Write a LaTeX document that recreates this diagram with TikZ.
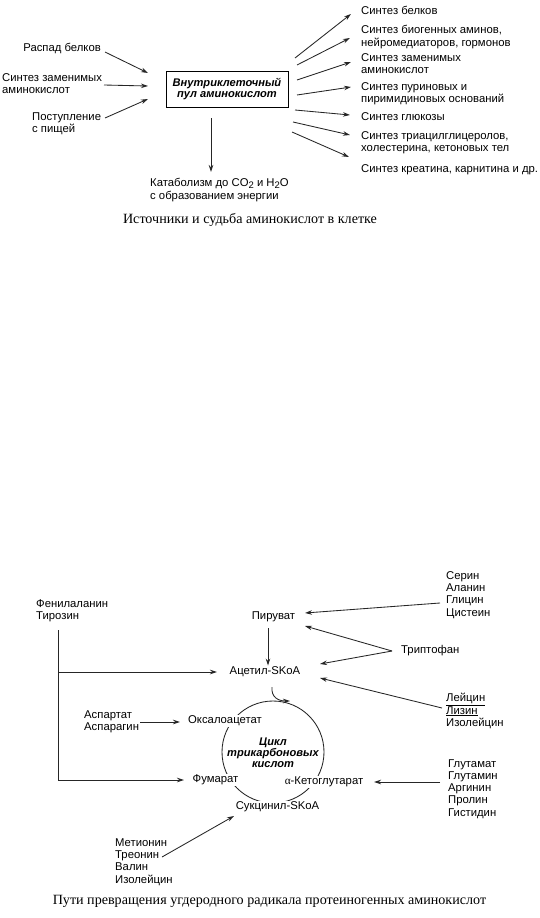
\documentclass[tikz,border=0pt]{standalone}
\usepackage{fontspec}
\setmainfont{Liberation Sans}
\newfontfamily\capfont{Liberation Serif}
\usetikzlibrary{arrows.meta,calc}
\newcommand{\chemsub}[1]{\raisebox{-0.3ex}{\fontsize{9.5}{9.5}\selectfont #1}}
\begin{document}
\begin{tikzpicture}[x=1pt,y=-1pt,
  lbl/.style={inner sep=1pt, font=\fontsize{11.3}{12.2}\selectfont, align=left},
  arr/.style={-{Stealth[length=7pt,width=4.5pt]}, line width=0.85pt, draw=black!85},
  ln/.style={line width=0.85pt, draw=black!85},
  captext/.style={inner sep=0pt, font=\capfont\fontsize{14.1}{16}\selectfont},
  cyc/.style={inner sep=1.2pt, fill=white, font=\fontsize{11.3}{12.2}\selectfont}]
\useasboundingbox (0,0) rectangle (539,918);
\fill[white] (0,0) rectangle (539,918);

% ---------- upper diagram ----------
\node[draw, line width=0.85pt, minimum width=122pt, minimum height=36pt, align=center,
      font=\fontsize{11.1}{11.5}\selectfont\bfseries\itshape] (pool) at (227,89) {Внутриклеточный\\пул аминокислот};

\node[lbl, anchor=east] (rasp) at (102,48) {Распад белков};
\node[lbl, anchor=west] (zam) at (1,83.5) {Синтез заменимых\\аминокислот};
\node[lbl, anchor=west] (post) at (31,124) {Поступление\\с пищей};

\coordinate (i1) at (148,73);
\coordinate (i2) at (148,86);
\coordinate (i3) at (148,99);
\draw[arr] (105,52) coordinate (o1) -- (i1);
\draw[arr] (104,85) coordinate (o2) -- (i2);
\draw[arr] (105,118) coordinate (o3) -- (i3);

\node[lbl, anchor=west] (r1) at (360,10) {Синтез белков};
\node[lbl, anchor=west] (r2) at (360,37) {Синтез биогенных аминов,\\нейромедиаторов, гормонов};
\node[lbl, anchor=west] (r3) at (360,64) {Синтез заменимых\\аминокислот};
\node[lbl, anchor=west] (r4) at (360,93.5) {Синтез пуриновых и\\пиримидиновых оснований};
\node[lbl, anchor=west] (r5) at (360,117) {Синтез глюкозы};
\node[lbl, anchor=west] (r6) at (360,143) {Синтез триацилглицеролов,\\холестерина, кетоновых тел};
\node[lbl, anchor=west] (r7) at (360,170) {Синтез креатина, карнитина и др.};

\coordinate (s1) at (295,58);  \coordinate (e1) at (351,14);
\coordinate (s2) at (297,65);  \coordinate (e2) at (350,38);
\coordinate (s3) at (297,80);  \coordinate (e3) at (351,62);
\coordinate (s4) at (297,95);  \coordinate (e4) at (351,87);
\coordinate (s5) at (295,110); \coordinate (e5) at (350,115);
\coordinate (s6) at (293,122); \coordinate (e6) at (350,135);
\coordinate (s7) at (292,132); \coordinate (e7) at (349,157);
\foreach \i in {1,...,7} {\draw[arr] (s\i) -- (e\i);}

\node[lbl, anchor=west, font=\fontsize{11.3}{13}\selectfont] (cat) at (149,190.5) {Катаболизм до CO\chemsub{2} и H\chemsub{2}O\\с образованием энергии};
\coordinate (d0) at (211,118);
\draw[arr] (d0) -- (d0 |- 0,172);

\node[captext] (cap1) at (250,220) {Источники и судьба аминокислот в клетке};

% ---------- lower diagram ----------
\draw[ln] (273,752) circle[radius=51];

\node[cyc] (pyr) at (273.5,617) {Пируват};
\node[cyc] (acet) at (265,672) {Ацетил-SKoA};
\node[cyc] (oxa) at (225,721) {Оксалоацетат};
\node[cyc] (fum) at (215.5,780) {Фумарат};
\node[cyc] (ket) at (324,782) {{\capfont α}-Кетоглутарат};
\node[cyc] (suc) at (277.5,807) {Сукцинил-SKoA};
\node[align=center, inner sep=0pt, font=\fontsize{11.1}{11}\selectfont\bfseries\itshape] (tca) at (273,753) {Цикл\\трикарбоновых\\кислот};

\node[lbl, anchor=west] (phe) at (35,611) {Фенилаланин\\Тирозин};
\node[lbl, anchor=west] (ser) at (445,595) {Серин\\Аланин\\Глицин\\Цистеин};
\node[lbl, anchor=west] (trp) at (400,651) {Триптофан};
\node[lbl, anchor=west] (leu) at (445,711) {\underline{Лейцин}\\\underline{Лизин}\\Изолейцин};
\node[lbl, anchor=west] (asp) at (83,722) {Аспартат\\Аспарагин};
\node[lbl, anchor=west] (glu) at (447,789) {Глутамат\\Глутамин\\Аргинин\\Пролин\\Гистидин};
\node[lbl, anchor=west] (met) at (114,862) {Метионин\\Треонин\\Валин\\Изолейцин};

% connectors
\coordinate (pa) at (268,628);
\draw[arr] (pa) -- (pa |- acet.north);
\coordinate (v0) at (58,630);
\draw[ln] (v0) -- (58,780);
\draw[arr] (58,672) -- (217,672);
\draw[arr] (58,780) -- (184,780);
\draw[arr] (440,603) -- (305,613);
\coordinate (tp) at (392,651);
\draw[arr] (tp) -- (305,626);
\draw[arr] (tp) -- (320,664);
\draw[arr] (442,708) -- (320,678);
\draw[arr] (140,722) -- (180,722);
\draw[arr] (440,782) -- (374,782);
\draw[arr] (162,857) -- (234,816);
\draw[arr] (272,687) .. controls (271,697) and (278,701) .. (290,701);

\node[captext] (cap2) at (269.5,901) {Пути превращения угдеродного радикала протеиногенных аминокислот};
\end{tikzpicture}
\end{document}
